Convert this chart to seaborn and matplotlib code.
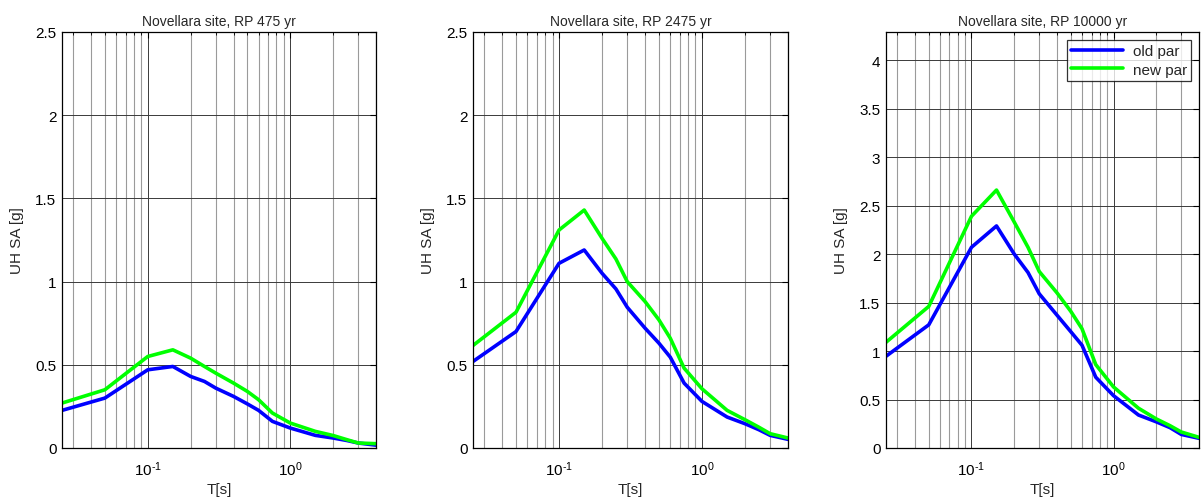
import numpy as np
import pandas as pd
import matplotlib
matplotlib.use("Agg")
import matplotlib.pyplot as plt
import seaborn as sns
from matplotlib.ticker import LogLocator, NullFormatter, FixedLocator, FuncFormatter

sns.set_style("white")
plt.rcParams['font.family'] = ['Liberation Sans', 'DejaVu Sans']
plt.rcParams['mathtext.fontset'] = 'custom'
plt.rcParams['mathtext.rm'] = 'Liberation Sans'
plt.rcParams['mathtext.it'] = 'Liberation Sans'
plt.rcParams['axes.unicode_minus'] = False

periods = [0.025, 0.05, 0.1, 0.15, 0.2, 0.25, 0.3, 0.4, 0.5, 0.6, 0.75, 1.0, 1.5, 2.0, 2.5, 3.0, 4.0]

old_475 = [0.226, 0.30, 0.47, 0.49, 0.43, 0.40, 0.36, 0.31, 0.265, 0.226, 0.16, 0.12, 0.076, 0.06, 0.045, 0.03, 0.017]
new_475 = [0.27, 0.35, 0.55, 0.59, 0.54, 0.49, 0.45, 0.39, 0.34, 0.29, 0.21, 0.15, 0.10, 0.075, 0.05, 0.03, 0.026]

old_2475 = [0.52, 0.70, 1.11, 1.19, 1.05, 0.956, 0.846, 0.72, 0.63, 0.546, 0.39, 0.28, 0.186, 0.146, 0.11, 0.076, 0.052]
new_2475 = [0.616, 0.816, 1.31, 1.43, 1.26, 1.136, 1.0, 0.88, 0.77, 0.66, 0.48, 0.356, 0.226, 0.17, 0.125, 0.086, 0.06]

old_10000 = [0.946, 1.27, 2.07, 2.29, 2.0, 1.81, 1.59, 1.37, 1.2, 1.06, 0.73, 0.54, 0.34, 0.27, 0.21, 0.14, 0.10]
new_10000 = [1.09, 1.46, 2.39, 2.66, 2.33, 2.07, 1.82, 1.60, 1.41, 1.23, 0.86, 0.63, 0.41, 0.30, 0.23, 0.165, 0.11]

titles = ["Novellara site, RP 475 yr", "Novellara site, RP 2475 yr", "Novellara site, RP 10000 yr"]
series_names = ["old par", "new par"]
ylims = [2.5, 2.5, 4.29]
yticks = [[0, 0.5, 1, 1.5, 2, 2.5], [0, 0.5, 1, 1.5, 2, 2.5], [0, 0.5, 1, 1.5, 2, 2.5, 3, 3.5, 4]]
ytick_labels = [["0", "0.5", "1", "1.5", "2", "2.5"], ["0", "0.5", "1", "1.5", "2", "2.5"],
                ["0", "0.5", "1", "1.5", "2", "2.5", "3", "3.5", "4"]]
data_sets = [(old_475, new_475), (old_2475, new_2475), (old_10000, new_10000)]


def log_label(v, pos):
    e = int(round(np.log10(v)))
    if e < 0:
        return r"$\mathdefault{10^{\text{-}%d}}$" % (-e)
    return r"$\mathdefault{10^{%d}}$" % e


W, H = 1202, 502
fig = plt.figure(figsize=(W / 100, H / 100), dpi=100)
boxes = [(62, 376), (473, 788), (886, 1199)]
top, bottom = 33, 449
palette = {"old par": "#0000ff", "new par": "#00ff00"}

for i, ((l, r), (old, new)) in enumerate(zip(boxes, data_sets)):
    ax = fig.add_axes([l / W, 1 - bottom / H, (r - l) / W, (bottom - top) / H])
    df = pd.DataFrame({
        "T": periods * 2,
        "SA": old + new,
        "series": [series_names[0]] * len(periods) + [series_names[1]] * len(periods),
    })
    sns.lineplot(data=df, x="T", y="SA", hue="series", palette=palette, ax=ax,
                 linewidth=2.6, legend=(i == 2), sort=False)
    ax.set_xscale("log")
    ax.set_xlim(0.025, 4)
    ax.set_ylim(0, ylims[i])
    ax.yaxis.set_major_locator(FixedLocator(yticks[i]))
    ax.set_yticklabels(ytick_labels[i])
    ax.xaxis.set_major_locator(LogLocator(base=10, numticks=10))
    ax.xaxis.set_major_formatter(FuncFormatter(log_label))
    ax.xaxis.set_minor_locator(LogLocator(base=10, subs=np.arange(2, 10), numticks=20))
    ax.xaxis.set_minor_formatter(NullFormatter())
    ax.grid(True, which="major", color="#3a3a3a", linewidth=0.7)
    ax.grid(True, which="minor", axis="x", color="#9a9a9a", linewidth=0.8)
    ax.tick_params(which="both", direction="in", top=True, right=True, labelsize=11,
                   colors="black")
    ax.tick_params(axis="x", which="major", pad=8)
    ax.tick_params(axis="y", which="major", pad=4)
    ax.tick_params(which="major", length=4)
    ax.tick_params(which="minor", length=2.5)
    for s in ax.spines.values():
        s.set_color("black")
        s.set_linewidth(0.9)
    ax.set_title(titles[i], fontsize=10, pad=5)
    ax.set_xlabel("T[s]", fontsize=11, labelpad=3)
    ax.set_ylabel("UH SA [g]", fontsize=11, labelpad=8)
    if i == 2:
        leg = ax.legend(loc="upper right", fontsize=11, frameon=True, fancybox=False,
                        edgecolor="black", handlelength=3.4, borderaxespad=0.5,
                        borderpad=0.3, labelspacing=0.3, handletextpad=0.6)
        leg.get_frame().set_linewidth(0.9)
        for ln in leg.get_lines():
            ln.set_linewidth(2.6)

fig.savefig("out.png", dpi=100, facecolor="white")
